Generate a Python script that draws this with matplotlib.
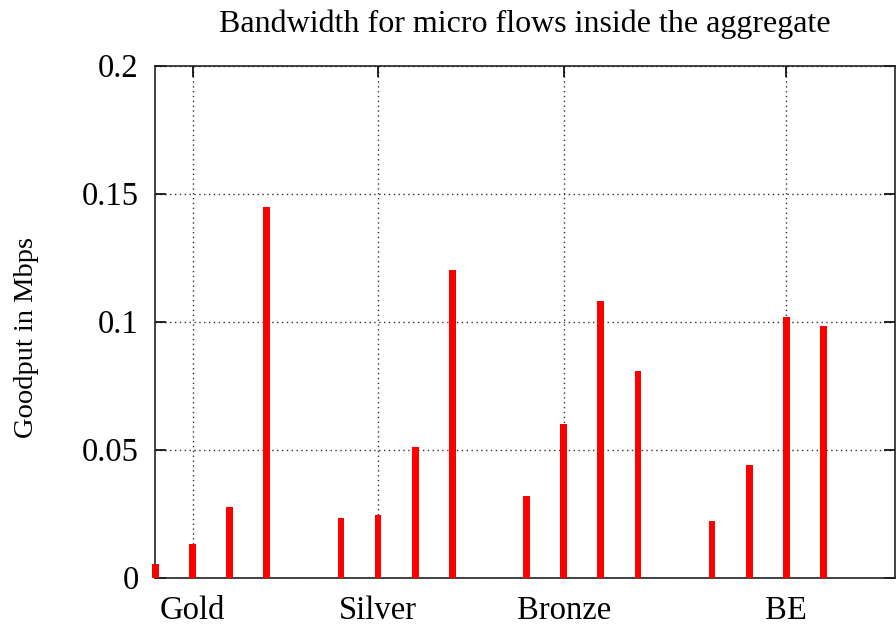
import matplotlib
matplotlib.use("Agg")
import matplotlib.pyplot as plt
import numpy as np

# four classes, four micro flows each, one slot left empty between classes
classes = ["Gold", "Silver", "Bronze", "BE"]
class_ticks = [2, 7, 12, 18]
flow_pos = [1, 2, 3, 4, 6, 7, 8, 9, 11, 12, 13, 14, 16, 17, 18, 19]
goodput = [0.0053, 0.0132, 0.0275, 0.1447,
           0.0232, 0.0245, 0.0510, 0.1200,
           0.0319, 0.0601, 0.1082, 0.0808,
           0.0221, 0.0439, 0.1018, 0.0982]

plt.rcParams['font.family'] = ['Liberation Serif', 'DejaVu Serif']

fig = plt.figure(figsize=(8.96, 6.28), dpi=100)
ax = fig.add_axes([0.1735, 0.0801, 0.8255, 0.8156])

ax.bar(flow_pos, goodput, width=0.18, color='#ff0000', zorder=3, clip_on=False)

ax.set_xlim(1, 20.93)
ax.set_ylim(0, 0.2)
ax.set_xticks(class_ticks)
ax.set_xticklabels(classes)
ax.set_yticks([0, 0.05, 0.1, 0.15, 0.2])
ax.set_yticklabels(["0", "0.05", "0.1", "0.15", "0.2"])

ax.grid(True, linestyle=(0, (1, 2.5)), color='#333333', linewidth=1.0, zorder=1)
ax.tick_params(axis='both', direction='in', length=8, width=1.2, labelsize=23.5,
               top=True, right=True, bottom=False)
ax.tick_params(axis='x', pad=13)
ax.tick_params(axis='y', pad=12)
for s in ax.spines.values():
    s.set_linewidth(1.2)
    s.set_color('#222222')

ax.set_ylabel("Goodput in Mbps", fontsize=20.5, va='center')
ax.yaxis.set_label_coords(-0.174, 0.468)
ax.set_title("Bandwidth for micro flows inside the aggregate", fontsize=23, pad=24)

fig.savefig("out.png", dpi=100)
